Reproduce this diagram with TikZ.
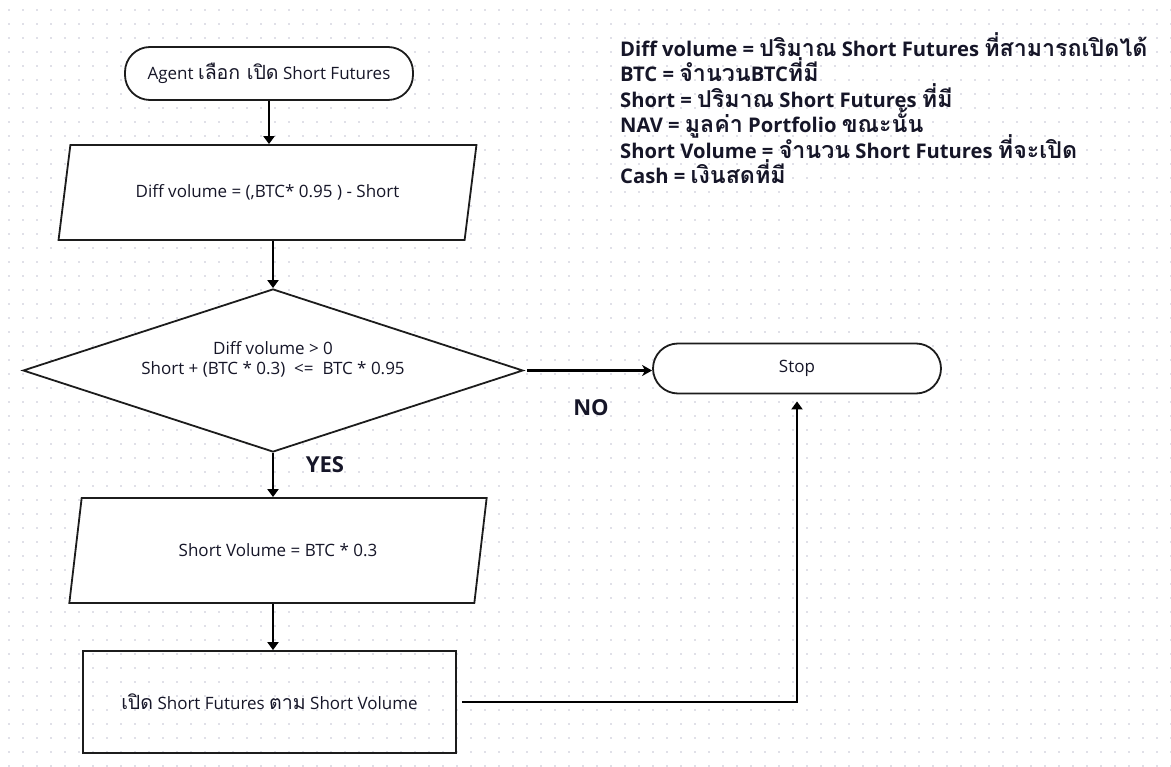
\documentclass[tikz,border=0pt]{standalone}
\usepackage{fontspec}
\setmainfont{Open Sans}
\newfontfamily\thaifont[Script=Thai,Scale=1.15]{Loma}
\newcommand{\tht}[1]{{\thaifont #1}}
\usetikzlibrary{shapes.geometric,arrows.meta}
\definecolor{griddot}{RGB}{224,224,232}
\definecolor{ink}{RGB}{22,22,40}
\definecolor{edge}{RGB}{28,28,28}

\begin{document}
\begin{tikzpicture}[x=1pt,y=-1pt,
  font=\fontsize{17}{20}\selectfont,
  shapeline/.style={draw=edge, line width=1.8pt, text=ink},
  terminal/.style={shapeline, fill=white, rectangle, rounded corners=25pt},
  iobox/.style={shapeline, fill=white, trapezium, trapezium stretches=true},
  decision/.style={shapeline, fill=white, diamond, inner sep=0pt},
  procbox/.style={shapeline, rectangle},
  flow/.style={draw=black, line width=2.4pt, -{Triangle[length=8pt,width=11pt]}},
  noflow/.style={draw=black, line width=2.4pt, -{Stealth[length=10pt,width=11pt,inset=3pt]}},
  tag/.style={text=ink, font=\fontsize{22}{25}\selectfont\bfseries},
  legend/.style={anchor=west, text=ink, inner sep=0pt, text height=15pt, text depth=4pt,
    font=\fontsize{20.2}{24}\selectfont\bfseries}
]
\useasboundingbox (0,0) rectangle (1171,767);
\fill[white] (0,0) rectangle (1171,767);

% dotted background grid
\foreach \k in {0,...,54}
  \draw[griddot, line width=2pt, dash pattern=on 2pt off 12pt] (8,10+14*\k) -- (1171,10+14*\k);

% flowchart shapes
\node[terminal, minimum width=288pt, minimum height=53pt] (start) at (269,73.5)
  {Agent \tht{เลือก เปิด} Short Futures};
\node[iobox, trapezium left angle=70, trapezium right angle=110,
      minimum width=419pt, minimum height=95pt] (p1) at (267.5,192.5)
  {Diff volume = (,BTC* 0.95 ) - Short};
\node[decision, minimum width=500pt, minimum height=163pt] (dia) at (273,370.5) {};
\node[align=center, text=ink] (diatext) at (273,359)
  {Diff volume > 0\\Short + (BTC * 0.3)~~<=~~BTC * 0.95};
\node[iobox, trapezium left angle=72, trapezium right angle=108,
      minimum width=418pt, minimum height=105pt] (p2) at (278,550.5)
  {Short Volume = BTC * 0.3};
\node[procbox, minimum width=373pt, minimum height=102pt] (rect) at (269.5,702)
  {\tht{เปิด} Short Futures \tht{ตาม} Short Volume};
\node[terminal, minimum width=288pt, minimum height=50pt] (stop) at (797,368.5) {Stop};

% connectors
\draw[flow] (start.south) -- (start.south |- p1.north);
\draw[flow] (dia.north |- p1.south) -- (dia.north);
\draw[flow] (dia.south) -- (dia.south |- p2.north);
\draw[flow] (dia.south |- p2.south) -- (dia.south |- rect.north);
\draw[noflow] ([xshift=3pt]dia.east) -- (dia.east -| stop.west);
\draw[flow] ([xshift=5pt]rect.east) -| ([yshift=-7pt]stop.south);

% branch labels
\node[tag] (yes) at (325,465) {YES};
\node[tag] (no) at (591,408) {NO};

% legend
\node[legend] (l1) at (620,51) {Diff volume = \tht{ปริมาณ} Short Futures \tht{ที่สามารถเปิดได้}};
\node[legend] (l2) at (620,76.5) {BTC = \tht{จำนวน}BTC\tht{ที่มี}};
\node[legend] (l3) at (620,102) {Short = \tht{ปริมาณ} Short Futures \tht{ที่มี}};
\node[legend] (l4) at (620,127.5) {NAV = \tht{มูลค่า} Portfolio \tht{ขณะนั้น}};
\node[legend] (l5) at (620,153) {Short Volume = \tht{จำนวน} Short Futures \tht{ที่จะเปิด}};
\node[legend] (l6) at (620,178.5) {Cash = \tht{เงินสดที่มี}};
\end{tikzpicture}
\end{document}
